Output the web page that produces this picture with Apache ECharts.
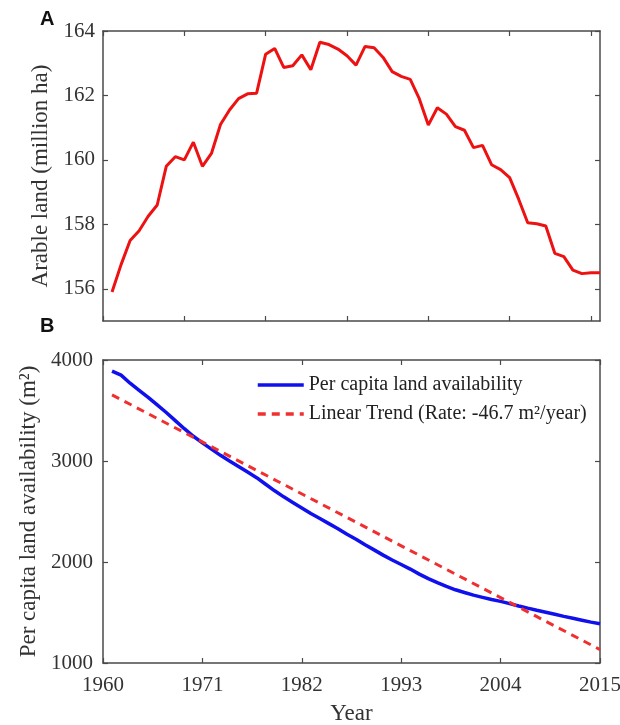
<!DOCTYPE html>
<html>
<head>
<meta charset="utf-8">
<script src="https://cdn.jsdelivr.net/npm/echarts@6/dist/echarts.min.js"></script>
<style>
  html, body { margin: 0; padding: 0; background: #fff; }
  #chart { width: 620px; height: 725px; }
</style>
</head>
<body>
<div id="chart"></div>
<script>
// 年份
const years = [1961, 1962, 1963, 1964, 1965, 1966, 1967, 1968, 1969, 1970,
  1971, 1972, 1973, 1974, 1975, 1976, 1977, 1978, 1979, 1980,
  1981, 1982, 1983, 1984, 1985, 1986, 1987, 1988, 1989, 1990,
  1991, 1992, 1993, 1994, 1995, 1996, 1997, 1998, 1999, 2000,
  2001, 2002, 2003, 2004, 2005, 2006, 2007, 2008, 2009, 2010,
  2011, 2012, 2013, 2014, 2015]
// A: arable land (million ha)
const arableLand = [155.9, 156.75, 157.5, 157.8, 158.25, 158.6, 159.8, 160.1, 160.0, 160.55,
  159.8, 160.2, 161.1, 161.55, 161.9, 162.05, 162.07, 163.28, 163.46, 162.87,
  162.92, 163.26, 162.8, 163.65, 163.58, 163.44, 163.23, 162.94, 163.52, 163.48,
  163.18, 162.74, 162.59, 162.5, 161.9, 161.08, 161.62, 161.42, 161.03, 160.92,
  160.38, 160.45, 159.85, 159.7, 159.45, 158.78, 158.05, 158.02, 157.95, 157.1,
  157.0, 156.58, 156.47, 156.5, 156.5]
// B: per capita land availability (m2)
const perCapita = [3890, 3850, 3770, 3700, 3630, 3555, 3480, 3400, 3320, 3245,
  3180, 3118, 3056, 3000, 2945, 2890, 2835, 2770, 2705, 2645,
  2590, 2535, 2480, 2430, 2380, 2330, 2275, 2225, 2170, 2120,
  2068, 2020, 1975, 1930, 1880, 1835, 1795, 1758, 1725, 1698,
  1672, 1650, 1628, 1610, 1588, 1565, 1543, 1522, 1502, 1482,
  1462, 1443, 1424, 1405, 1388]
// 线性趋势
const trendYears = [1961, 2015]
const trendValues = [3655, 1133]

// 刻度
const xTicksA = [1960, 1969, 1978, 1987, 1996, 2005, 2014]
const xTicksB = [1960, 1971, 1982, 1993, 2004, 2015]
const yTicksA = [156, 158, 160, 162, 164]
const yTicksB = [1000, 2000, 3000, 4000]

const serif = "'Liberation Serif', 'Times New Roman', serif"
const boxColor = '#4a4a4a'

function makeAxis(grid, pos, ticks, range, showLabel, name, nameGap, labelMargin) {
  return {
    type: 'value',
    gridIndex: grid,
    position: pos,
    min: range[0],
    max: range[1],
    axisLine: { show: true, onZero: false, lineStyle: { color: boxColor, width: 1.5 } },
    axisTick: { show: true, inside: true, length: 5, customValues: ticks, lineStyle: { color: boxColor, width: 1.2 } },
    axisLabel: {
      show: showLabel,
      customValues: ticks,
      formatter: v => String(v),
      fontFamily: serif,
      fontSize: 21,
      color: '#333',
      margin: labelMargin || 9
    },
    splitLine: { show: false },
    name: name || '',
    nameLocation: 'middle',
    nameGap: nameGap || 0,
    nameTextStyle: { fontFamily: serif, fontSize: 23, color: '#333' }
  }
}

const chart = echarts.init(document.getElementById('chart'), null, { renderer: 'canvas' })

chart.setOption({
  animation: false,
  backgroundColor: '#fff',
  grid: [
    { left: 103, top: 31, width: 497, height: 290, outerBoundsMode: 'none' },
    { left: 103, top: 360, width: 497, height: 303, outerBoundsMode: 'none' }
  ],
  xAxis: [
    makeAxis(0, 'bottom', xTicksA, [1960, 2015], false),
    makeAxis(0, 'top', xTicksA, [1960, 2015], false),
    makeAxis(1, 'bottom', xTicksB, [1960, 2015], true, 'Year', 39, 12),
    makeAxis(1, 'top', xTicksB, [1960, 2015], false)
  ],
  yAxis: [
    makeAxis(0, 'left', yTicksA, [155, 164], true, 'Arable land (million ha)', 50, 8),
    makeAxis(0, 'right', yTicksA, [155, 164], false),
    makeAxis(1, 'left', yTicksB, [1000, 4000], true, 'Per capita land availability (m²)', 59, 10),
    makeAxis(1, 'right', yTicksB, [1000, 4000], false)
  ],
  legend: {
    orient: 'vertical',
    left: 256,
    top: 375,
    padding: 0,
    itemWidth: 46,
    itemHeight: 14,
    itemGap: 9,
    itemStyle: { opacity: 0 },
    lineStyle: { width: 3.5 },
    textStyle: { fontFamily: serif, fontSize: 20, color: '#222' },
    data: ['Per capita land availability', 'Linear Trend (Rate: -46.7 m²/year)']
  },
  graphic: [
    { type: 'text', left: 40, top: 9, style: { text: 'A', font: "bold 20px 'Liberation Sans', Arial, sans-serif", fill: '#111' } },
    { type: 'text', left: 40, top: 316, style: { text: 'B', font: "bold 20px 'Liberation Sans', Arial, sans-serif", fill: '#111' } }
  ],
  series: [
    {
      name: 'Arable land',
      type: 'line',
      xAxisIndex: 0,
      yAxisIndex: 0,
      symbol: 'none',
      lineStyle: { color: '#ee1111', width: 3 },
      data: years.map((y, i) => [y, arableLand[i]])
    },
    {
      name: 'Per capita land availability',
      type: 'line',
      xAxisIndex: 2,
      yAxisIndex: 2,
      symbol: 'none',
      itemStyle: { color: '#1010ee' },
      lineStyle: { color: '#1010ee', width: 3.5 },
      data: years.map((y, i) => [y, perCapita[i]])
    },
    {
      name: 'Linear Trend (Rate: -46.7 m²/year)',
      type: 'line',
      xAxisIndex: 2,
      yAxisIndex: 2,
      symbol: 'none',
      itemStyle: { color: '#f03030' },
      lineStyle: { color: '#f03030', width: 3, type: [8, 6] },
      data: trendYears.map((y, i) => [y, trendValues[i]])
    }
  ]
})
</script>
</body>
</html>
